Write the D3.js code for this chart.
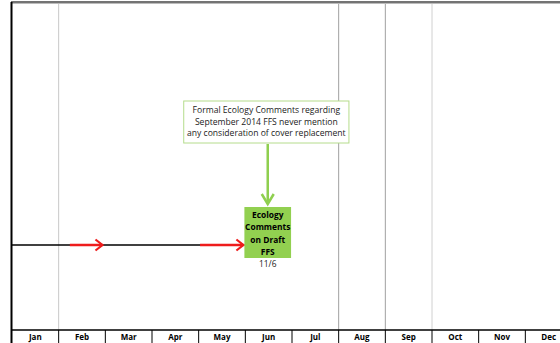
<!DOCTYPE html>
<html><head><meta charset="utf-8">
<script src="https://cdn.jsdelivr.net/npm/d3@7"></script>
<style>body{margin:0;background:#fff}svg{display:block}</style>
</head><body>
<svg id="c" width="560" height="343"></svg>
<script>
const months = ["Jan","Feb","Mar","Apr","May","Jun","Jul","Aug","Sep","Oct","Nov","Dec"];
const gridLines = [{m:1,color:"#c8c8c8"},{m:7,color:"#a0a0a0"},{m:8,color:"#a0a0a0"},{m:9,color:"#d0d0d0"}];
const timelineEnd = 4.98;
const redArrows = [[1.24,1.96],[4.03,4.98]];
const eventBox = {start:4.98, end:5.98, lines:["Ecology","Comments","on Draft","FFS"], date:"11/6"};
const callout = {start:3.68, end:7.22, lines:["Formal Ecology Comments regarding","September 2014 FFS never mention","any consideration of cover replacement"]};

const svg = d3.select("#c");
const x = d3.scaleLinear().domain([0,12]).range([12,572]);
const axisY = 330, topY = 2, lineY = 245;

// frame
svg.append("line").attr("x1",11).attr("x2",560).attr("y1",topY).attr("y2",topY).attr("stroke","#444").attr("stroke-width",1.5);
svg.append("line").attr("x1",11).attr("x2",560).attr("y1",topY+1.5).attr("y2",topY+1.5).attr("stroke","#bbb").attr("stroke-width",1);
svg.append("line").attr("x1",11.5).attr("x2",11.5).attr("y1",topY).attr("y2",343).attr("stroke","#000").attr("stroke-width",2);

// grid lines
svg.selectAll(".g").data(gridLines).join("line")
  .attr("x1",d=>x(d.m)).attr("x2",d=>x(d.m)).attr("y1",topY+2).attr("y2",axisY)
  .attr("stroke",d=>d.color).attr("stroke-width",1);

// month axis
svg.append("line").attr("x1",11).attr("x2",560).attr("y1",axisY).attr("y2",axisY).attr("stroke","#000").attr("stroke-width",1.5);
svg.selectAll(".sep").data(d3.range(1,12)).join("line")
  .attr("x1",d=>x(d)).attr("x2",d=>x(d)).attr("y1",axisY).attr("y2",343).attr("stroke","#000").attr("stroke-width",1);
svg.selectAll(".ml").data(months).join("text")
  .attr("x",(d,i)=>x(i+0.5)).attr("y",340).attr("text-anchor","middle")
  .attr("font-family","Open Sans, sans-serif").attr("font-weight","bold").attr("font-size","8px").attr("fill","#000").text(d=>d);

// timeline
svg.append("line").attr("x1",x(0)).attr("x2",x(timelineEnd)).attr("y1",lineY).attr("y2",lineY).attr("stroke","#000").attr("stroke-width",1.5);
redArrows.forEach(([a,b])=>{
  svg.append("line").attr("x1",x(a)).attr("x2",x(b)-1).attr("y1",lineY).attr("y2",lineY).attr("stroke","#ee1c1c").attr("stroke-width",2.5);
  svg.append("path").attr("d",`M${x(b)-8},${lineY-5.5}L${x(b)-1},${lineY}L${x(b)-8},${lineY+5.5}`)
    .attr("fill","none").attr("stroke","#ee1c1c").attr("stroke-width",2.2);
});

// event box
const bx0 = x(eventBox.start), bx1 = x(eventBox.end), by0 = 207, by1 = 258;
svg.append("rect").attr("x",bx0).attr("y",by0).attr("width",bx1-bx0).attr("height",by1-by0).attr("fill","#92d050");
svg.selectAll(".bt").data(eventBox.lines).join("text")
  .attr("x",(bx0+bx1)/2).attr("y",(d,i)=>218+i*12.3).attr("text-anchor","middle")
  .attr("font-family","Open Sans, sans-serif").attr("font-weight","bold").attr("font-size","8.4px").attr("fill","#000").text(d=>d);
svg.append("text").attr("x",(bx0+bx1)/2).attr("y",267).attr("text-anchor","middle")
  .attr("font-family","Open Sans, sans-serif").attr("font-size","8.4px").attr("fill","#222").text(eventBox.date);

// callout
const cx0 = x(callout.start), cx1 = x(callout.end), cy0 = 101, cy1 = 143;
svg.append("rect").attr("x",cx0).attr("y",cy0).attr("width",cx1-cx0).attr("height",cy1-cy0)
  .attr("fill","#fff").attr("stroke","#b5dc8c").attr("stroke-width",1);
svg.selectAll(".ct").data(callout.lines).join("text")
  .attr("x",(cx0+cx1)/2).attr("y",(d,i)=>113+i*11.5).attr("text-anchor","middle")
  .attr("font-family","Open Sans, sans-serif").attr("font-size","8.6px").attr("fill","#222").text(d=>d);

// green arrow
const ax = (bx0+bx1)/2;
svg.append("line").attr("x1",ax).attr("x2",ax).attr("y1",cy1+1).attr("y2",by0-3).attr("stroke","#8fcf4f").attr("stroke-width",2.5);
svg.append("path").attr("d",`M${ax-6},${by0-13}L${ax},${by0-3}L${ax+6},${by0-13}`)
  .attr("fill","none").attr("stroke","#8fcf4f").attr("stroke-width",2.5);
</script>
</body></html>
